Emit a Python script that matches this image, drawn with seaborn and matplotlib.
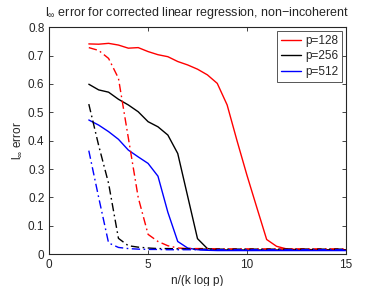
import numpy as np
import pandas as pd
import seaborn as sns
import matplotlib
matplotlib.use("Agg")
import matplotlib.pyplot as plt

# x grid: n/(k log p)
n_ratio = [2.0, 2.5, 3.0, 3.5, 4.0, 4.5, 5.0, 5.5, 6.0, 6.5, 7.0, 7.5, 8.0, 8.5,
           9.0, 9.5, 10.0, 10.5, 11.0, 11.5, 12.0, 12.5, 13.0, 13.5, 14.0, 14.5, 15.0]

# solid lines
err_128 = [0.741, 0.740, 0.743, 0.737, 0.726, 0.728, 0.714, 0.703, 0.696, 0.679,
           0.667, 0.652, 0.632, 0.602, 0.526, 0.400, 0.279, 0.165, 0.052, 0.028,
           0.019, 0.017, 0.017, 0.016, 0.016, 0.016, 0.016]
err_256 = [0.599, 0.579, 0.571, 0.546, 0.526, 0.502, 0.467, 0.449, 0.420, 0.355,
           0.205, 0.055, 0.020, 0.016, 0.015, 0.015, 0.015, 0.015, 0.015, 0.015,
           0.015, 0.015, 0.015, 0.015, 0.015, 0.015, 0.015]
err_512 = [0.473, 0.455, 0.432, 0.405, 0.367, 0.343, 0.320, 0.275, 0.148, 0.045,
           0.022, 0.016, 0.014, 0.013, 0.013, 0.013, 0.013, 0.013, 0.013, 0.013,
           0.013, 0.013, 0.013, 0.013, 0.013, 0.013, 0.013]

# dash-dot lines
err_128_dd = [0.728, 0.718, 0.690, 0.620, 0.410, 0.200, 0.070, 0.045, 0.030, 0.022,
              0.020, 0.020, 0.020, 0.019, 0.019, 0.019, 0.019, 0.019, 0.019, 0.019,
              0.019, 0.019, 0.019, 0.019, 0.019, 0.019, 0.019]
err_256_dd = [0.529, 0.383, 0.250, 0.056, 0.030, 0.025, 0.022, 0.020, 0.020, 0.019,
              0.019, 0.018, 0.018, 0.018, 0.018, 0.018, 0.018, 0.018, 0.018, 0.018,
              0.018, 0.018, 0.018, 0.018, 0.018, 0.018, 0.018]
err_512_dd = [0.365, 0.200, 0.040, 0.024, 0.020, 0.018, 0.017, 0.017, 0.016, 0.016,
              0.016, 0.016, 0.016, 0.016, 0.016, 0.016, 0.016, 0.016, 0.016, 0.016,
              0.016, 0.016, 0.016, 0.016, 0.016, 0.016, 0.016]

labels = ["p=128", "p=256", "p=512"]
colors = ["#ff0000", "#000000", "#0000ff"]

sns.set_style("ticks", {"xtick.direction": "in", "ytick.direction": "in"})
plt.rcParams["font.family"] = ["Liberation Sans", "DejaVu Sans"]
plt.rcParams["mathtext.fontset"] = "custom"
plt.rcParams["mathtext.rm"] = "Liberation Sans"
plt.rcParams["mathtext.it"] = "Liberation Sans"

fig = plt.figure(figsize=(3.82, 2.86), dpi=100)
ax = fig.add_axes([0.129, 0.111, 0.776, 0.794])

solid = [err_128, err_256, err_512]
dashdot = [err_128_dd, err_256_dd, err_512_dd]

for i in range(3):
    sns.lineplot(x=n_ratio, y=solid[i], color=colors[i], lw=1.0,
                 label=labels[i], ax=ax)
for i in range(3):
    sns.lineplot(x=n_ratio, y=dashdot[i], color=colors[i], lw=1.0,
                 linestyle="-.", dashes=False, legend=False, ax=ax)
for line in ax.lines[3:]:
    line.set_linestyle((0, (6, 2.5, 1.2, 2.5)))

ax.set_xlim(0, 15)
ax.set_ylim(0, 0.8)
ax.set_xticks([0, 5, 10, 15])
ax.set_yticks(np.arange(0, 0.81, 0.1))
ax.set_yticklabels(["0", "0.1", "0.2", "0.3", "0.4", "0.5", "0.6", "0.7", "0.8"])
ax.tick_params(labelsize=8.5, length=3, width=0.6, top=True, right=True)
for s in ax.spines.values():
    s.set_linewidth(0.8)
    s.set_visible(True)

ax.set_title(r"l$_\infty$ error for corrected linear regression, non$-$incoherent",
             fontsize=9, pad=8)
ax.set_xlabel("n/(k log p)", fontsize=8.5, labelpad=3)
ax.set_ylabel(r"l$_\infty$ error", fontsize=8.5, labelpad=3)

leg = ax.legend(loc="upper right", fontsize=8.5, fancybox=False, framealpha=1,
                handlelength=1.7, handletextpad=0.3, borderpad=0.35,
                labelspacing=0.3, borderaxespad=0.3)
leg.get_frame().set_edgecolor("#555555")
leg.get_frame().set_linewidth(0.7)

fig.savefig("out.png", dpi=100)
